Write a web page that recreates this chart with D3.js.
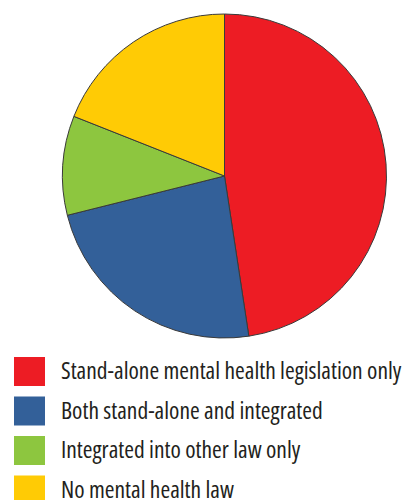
<!DOCTYPE html>
<html>
<head>
<meta charset="utf-8">
<script src="https://cdn.jsdelivr.net/npm/d3@7"></script>
<style>
  html, body { margin: 0; padding: 0; background: #fff; }
</style>
</head>
<body>
<div id="chart"></div>
<script>
const categories = [
  'Stand-alone mental health legislation only',
  'Both stand-alone and integrated',
  'Integrated into other law only',
  'No mental health law'
];
const values = [47.6, 23.5, 9.9, 19.0];
const colors = ['#ed1c24', '#336099', '#8dc63f', '#ffcb05'];

const width = 408, height = 500;
const cx = 224.5, cy = 176, radius = 162;

const svg = d3.select('#chart')
  .append('svg')
    .attr('width', width)
    .attr('height', height);

const data = categories.map((c, i) => ({ name: c, value: values[i], color: colors[i] }));

const pie = d3.pie()
  .sort(null)
  .value(d => d.value);

const arc = d3.arc()
  .innerRadius(0)
  .outerRadius(radius);

svg.append('g')
    .attr('transform', `translate(${cx},${cy})`)
  .selectAll('path')
  .data(pie(data))
  .join('path')
    .attr('d', arc)
    .attr('fill', d => d.data.color)
    .attr('stroke', '#3a3a3a')
    .attr('stroke-width', 1);

// legend
const legend = svg.append('g')
  .selectAll('g')
  .data(data)
  .join('g')
    .attr('transform', (d, i) => `translate(14,${357 + i * 39.5})`);

legend.append('rect')
    .attr('width', 31)
    .attr('height', 29)
    .attr('fill', d => d.color);

legend.append('text')
    .attr('x', 47)
    .attr('y', 22)
    .attr('font-size', '23.5px')
    .attr('font-family', '"Liberation Sans Narrow", "Open Sans", sans-serif')
    .attr('font-stretch', 'condensed')
    .attr('fill', '#231f20')
    .text(d => d.name);
</script>
</body>
</html>
